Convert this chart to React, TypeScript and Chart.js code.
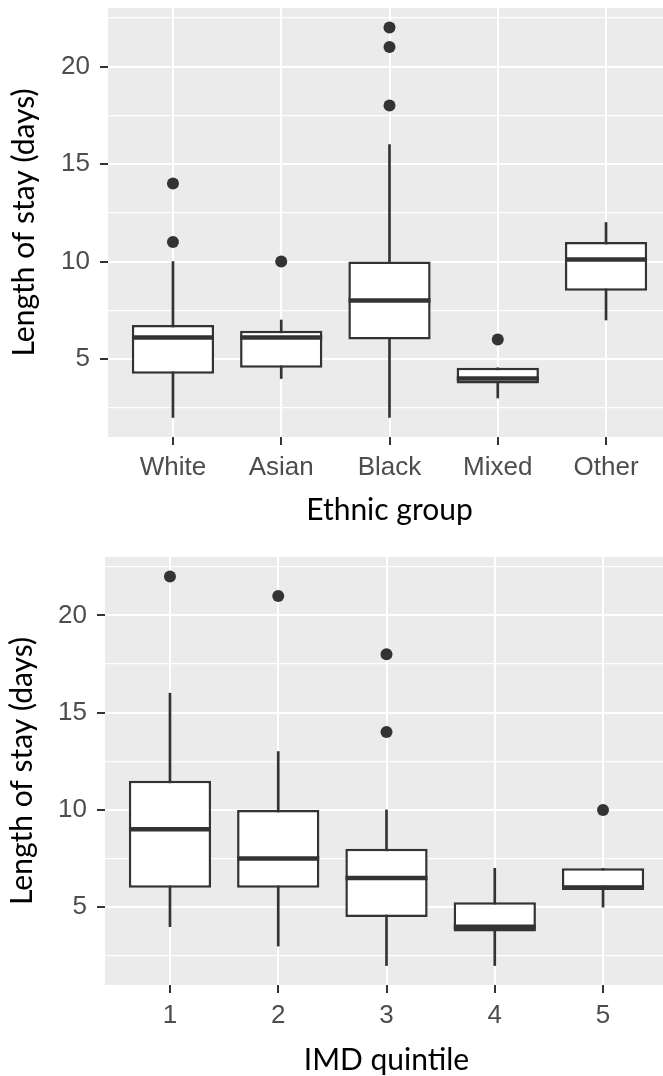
import React, { useEffect, useRef } from 'react';
import { Chart, registerables } from 'chart.js';

Chart.register(...registerables);

// ---------- Data: Ethnic group ----------
const ethnicGroups = ['White', 'Asian', 'Black', 'Mixed', 'Other'];
const ethnicWhiskerLow = [2, 4, 2, 3, 7];
const ethnicQ1 = [4.25, 4.55, 6, 3.75, 8.5];
const ethnicMedian = [6.1, 6.1, 8, 4, 10.1];
const ethnicQ3 = [6.75, 6.45, 10, 4.55, 11];
const ethnicWhiskerHigh = [10, 7, 16, 4.55, 12];
const ethnicOutliers = [[14, 11], [10], [22, 21, 18], [6], []];

// ---------- Data: IMD quintile ----------
const imdQuintiles = ['1', '2', '3', '4', '5'];
const imdWhiskerLow = [4, 3, 2, 2, 5];
const imdQ1 = [6, 6, 4.5, 3.75, 6];
const imdMedian = [9, 7.5, 6.5, 4, 6];
const imdQ3 = [11.5, 10, 8, 5.25, 7];
const imdWhiskerHigh = [16, 13, 10, 7, 7];
const imdOutliers = [[22], [21], [18, 14], [], [10]];

// ---------- Axis ----------
const yMin = 1;
const yMax = 23;
const yMajorTicks = [5, 10, 15, 20];
const yMinorTicks = [2.5, 7.5, 12.5, 17.5, 22.5];
const yTitle = 'Length of stay (days)';

const INK = '#333333';
const TICK_TEXT = '#4d4d4d';

const panelBackground = {
  id: 'panelBackground',
  beforeDraw(chart: any) {
    const { ctx, chartArea } = chart;
    if (!chartArea) return;
    ctx.save();
    ctx.fillStyle = '#ebebeb';
    ctx.fillRect(chartArea.left, chartArea.top, chartArea.right - chartArea.left, chartArea.bottom - chartArea.top);
    ctx.restore();
  },
};

type Spec = {
  categories: string[];
  lo: number[];
  q1: number[];
  med: number[];
  q3: number[];
  hi: number[];
  outliers: number[][];
  xTitle: string;
  yAxisWidth: number;
  xAxisHeight: number;
  padTop: number;
  padRight: number;
  xTitlePadBottom: number;
  yTitlePadTop: number;
};

function buildConfig(s: Spec): any {
  const isMajor = (v: number) => yMajorTicks.includes(v);
  const yAll = [...yMinorTicks, ...yMajorTicks].sort((a, b) => a - b);
  return {
    type: 'bar',
    data: {
      datasets: [
        {
          type: 'bar',
          data: s.categories.map((_, i) => ({ x: i + 1, y: [s.lo[i], s.hi[i]] })),
          backgroundColor: INK,
          borderWidth: 0,
          grouped: false,
          barPercentage: 1,
          categoryPercentage: 1,
          maxBarThickness: 2,
          order: 4,
        },
        {
          type: 'bar',
          data: s.categories.map((_, i) => ({ x: i + 1, y: [s.q1[i], s.q3[i]] })),
          backgroundColor: '#ffffff',
          borderColor: INK,
          borderWidth: 2.5,
          borderSkipped: false,
          grouped: false,
          barPercentage: 0.76,
          categoryPercentage: 1,
          order: 3,
        },
        {
          type: 'scatter',
          data: s.categories.map((_, i) => ({ x: i + 1, y: s.med[i] })),
          pointStyle: 'line',
          pointRadius: 41,
          pointBorderColor: INK,
          pointBorderWidth: 4.5,
          pointBackgroundColor: INK,
          order: 2,
        },
        {
          type: 'scatter',
          data: s.outliers.flatMap((vals, i) => vals.map((v) => ({ x: i + 1, y: v }))),
          pointStyle: 'circle',
          pointRadius: 6,
          pointBorderWidth: 0,
          pointBackgroundColor: INK,
          order: 1,
        },
      ],
    },
    options: {
      responsive: false,
      animation: false,
      events: [],
      devicePixelRatio: 1,
      layout: { autoPadding: false, padding: { top: s.padTop, right: s.padRight, left: 0, bottom: 0 } },
      plugins: { legend: { display: false }, tooltip: { enabled: false } },
      scales: {
        x: {
          type: 'linear',
          min: 0.4,
          max: s.categories.length + 0.6,
          offset: false,
          afterBuildTicks: (sc: any) => {
            sc.ticks = s.categories.map((_, i) => ({ value: i + 1 }));
          },
          afterFit: (sc: any) => {
            sc.height = s.xAxisHeight;
            sc.paddingLeft = 0;
            sc.paddingRight = 0;
          },
          grid: {
            color: '#ffffff',
            lineWidth: 2,
            tickLength: 8,
            tickColor: INK,
            tickWidth: 2,
            offset: false,
          },
          border: { display: false },
          ticks: {
            autoSkip: false,
            maxRotation: 0,
            minRotation: 0,
            padding: 7,
            color: TICK_TEXT,
            font: { family: "'Liberation Sans', Arial, sans-serif", size: 26 },
            callback: (v: number) => s.categories[Math.round(v) - 1] ?? '',
          },
          title: {
            display: true,
            text: s.xTitle,
            color: '#000000',
            font: { family: 'Lato', size: 30, lineHeight: 1 },
            padding: { top: 0, bottom: s.xTitlePadBottom },
          },
        },
        y: {
          type: 'linear',
          min: yMin,
          max: yMax,
          beginAtZero: false,
          afterBuildTicks: (sc: any) => {
            sc.ticks = yAll.map((v) => ({ value: v }));
          },
          afterFit: (sc: any) => {
            sc.width = s.yAxisWidth;
            sc.paddingTop = 0;
            sc.paddingBottom = 0;
          },
          grid: {
            color: '#ffffff',
            lineWidth: (c: any) => (c.tick && isMajor(c.tick.value) ? 2 : 1.3),
            tickLength: 8,
            tickColor: (c: any) => (c.tick && isMajor(c.tick.value) ? INK : 'rgba(0,0,0,0)'),
            tickWidth: 2,
          },
          border: { display: false },
          ticks: {
            autoSkip: false,
            padding: 10,
            color: TICK_TEXT,
            font: { family: "'Liberation Sans', Arial, sans-serif", size: 26 },
            callback: (v: number) => (isMajor(v) ? String(v) : ''),
          },
          title: {
            display: true,
            text: yTitle,
            color: '#000000',
            font: { family: 'Lato', size: 30, lineHeight: 1 },
            padding: { top: s.yTitlePadTop, bottom: 0 },
          },
        },
      },
    },
    plugins: [panelBackground],
  };
}

function BoxChart({ spec, top }: { spec: Spec; top: number }) {
  const ref = useRef<HTMLCanvasElement | null>(null);
  useEffect(() => {
    if (!ref.current) return;
    const chart = new Chart(ref.current, buildConfig(spec));
    return () => chart.destroy();
  }, [spec]);
  return (
    <canvas
      ref={ref}
      width={680}
      height={538}
      style={{ position: 'absolute', left: 0, top, width: 680, height: 538, display: 'block' }}
    />
  );
}

const ethnicSpec: Spec = {
  categories: ethnicGroups,
  lo: ethnicWhiskerLow,
  q1: ethnicQ1,
  med: ethnicMedian,
  q3: ethnicQ3,
  hi: ethnicWhiskerHigh,
  outliers: ethnicOutliers,
  xTitle: 'Ethnic group',
  yAxisWidth: 108,
  xAxisHeight: 101,
  padTop: 8,
  padRight: 9,
  xTitlePadBottom: 13,
  yTitlePadTop: 9,
};

const imdSpec: Spec = {
  categories: imdQuintiles,
  lo: imdWhiskerLow,
  q1: imdQ1,
  med: imdMedian,
  q3: imdQ3,
  hi: imdWhiskerHigh,
  outliers: imdOutliers,
  xTitle: 'IMD quintile',
  yAxisWidth: 105,
  xAxisHeight: 91,
  padTop: 19,
  padRight: 12,
  xTitlePadBottom: 1,
  yTitlePadTop: 7,
};

export default function App() {
  return (
    <div
      style={{
        position: 'absolute',
        left: 0,
        top: 0,
        width: 663,
        height: 1076,
        overflow: 'hidden',
        background: '#ffffff',
      }}
    >
      <BoxChart spec={ethnicSpec} top={0} />
      <BoxChart spec={imdSpec} top={538} />
    </div>
  );
}
